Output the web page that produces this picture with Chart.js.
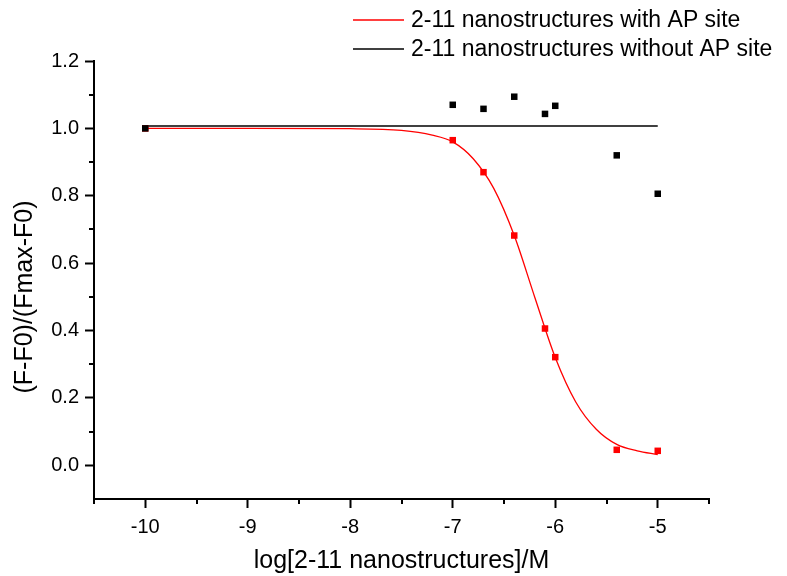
<!DOCTYPE html>
<html>
<head>
<meta charset="utf-8">
<title>Binding curve</title>
<script src="https://cdn.jsdelivr.net/npm/chart.js@4.4.1/dist/chart.umd.min.js"></script>
<style>
    html, body { margin: 0; padding: 0; background: #fff; }
    #wrap { width: 787px; height: 576px; }
</style>
</head>
<body>
<div id="wrap"><canvas id="myChart" width="787" height="576"></canvas></div>
<script>
// Measured points (log concentration)
const logConc = [-10, -7, -6.7, -6.4, -6.1, -6, -5.4, -5];
// With AP site (red squares)
const withAP = [1.0, 0.965, 0.870, 0.682, 0.406, 0.321, 0.046, 0.043];
// Without AP site (black squares)
const withoutAP = [1.0, 1.070, 1.058, 1.094, 1.043, 1.067, 0.920, 0.806];
// Fitted curve
const fitX = [-10, -9, -8, -7.5, -7.2, -7, -6.8, -6.6, -6.4, -6.2, -6, -5.8, -5.6, -5.4, -5.2, -5];
const fitY = [1.0, 1.0, 0.999, 0.994, 0.980, 0.960, 0.910, 0.822, 0.682, 0.499, 0.320, 0.188, 0.107, 0.062, 0.043, 0.032];
// Flat line (without AP site)
const flatX = [-10, -5];
const flatY = [1.007, 1.007];
// Axis ticks
const xTicks = [-10, -9, -8, -7, -6, -5];
const xMinor = [-10.5, -9.5, -8.5, -7.5, -6.5, -5.5, -4.5];
const yTicks = [0.0, 0.2, 0.4, 0.6, 0.8, 1.0, 1.2];
const yMinor = [0.1, 0.3, 0.5, 0.7, 0.9, 1.1];
const legendLabels = ['2-11 nanostructures with AP site', '2-11 nanostructures without AP site'];
const yTitle = '(F-F0)/(Fmax-F0)';

const FONT = '"Liberation Sans", Arial, sans-serif';
Chart.defaults.font.family = FONT;
Chart.defaults.color = '#000';

function toPoints(xs, ys) {
    return xs.map((x, i) => ({ x: x, y: ys[i] }));
}

// Small ticks between the labelled ones
const minorTicks = {
    id: 'minorTicks',
    afterDraw(chart) {
        const ctx = chart.ctx;
        const sx = chart.scales.x, sy = chart.scales.y;
        ctx.save();
        ctx.strokeStyle = '#000';
        ctx.lineWidth = 2;
        ctx.beginPath();
        xMinor.forEach(v => {
            const px = Math.round(sx.getPixelForValue(v));
            ctx.moveTo(px, sx.top);
            ctx.lineTo(px, sx.top + 5);
        });
        yMinor.forEach(v => {
            const py = Math.round(sy.getPixelForValue(v));
            ctx.moveTo(sy.right, py);
            ctx.lineTo(sy.right - 5, py);
        });
        ctx.stroke();
        ctx.restore();
    }
};

// Legend block at the top right + y title (sits a bit below the middle)
const sideLegend = {
    id: 'sideLegend',
    afterDraw(chart) {
        const ctx = chart.ctx;
        ctx.save();
        ctx.font = '23px ' + FONT;
        ctx.textBaseline = 'middle';
        ctx.textAlign = 'left';
        chart.data.datasets.forEach(ds => {
            if (ds.legendRow === undefined) return;
            const y = 20 + ds.legendRow * 29;
            ctx.strokeStyle = ds.borderColor;
            ctx.lineWidth = 1.5;
            ctx.beginPath();
            ctx.moveTo(353, y);
            ctx.lineTo(404, y);
            ctx.stroke();
            ctx.fillStyle = '#000';
            ctx.fillText(ds.label, 411, y + 1);
        });
        // y axis title
        ctx.font = '25px ' + FONT;
        ctx.textAlign = 'center';
        ctx.translate(25, 297);
        ctx.rotate(-Math.PI / 2);
        ctx.fillText(yTitle, 0, 0);
        ctx.restore();
    }
};

const ctx = document.getElementById('myChart').getContext('2d');
const myChart = new Chart(ctx, {
    type: 'scatter',
    data: {
        datasets: [
            {
                label: 'without AP (points)',
                data: toPoints(logConc, withoutAP),
                pointStyle: 'rect',
                pointRadius: 4.6,
                pointBorderWidth: 0,
                backgroundColor: '#000',
                showLine: false,
                order: 0
            },
            {
                label: 'with AP (points)',
                data: toPoints(logConc, withAP),
                pointStyle: 'rect',
                pointRadius: 4.6,
                pointBorderWidth: 0,
                backgroundColor: '#ff0000',
                showLine: false,
                order: 1
            },
            {
                label: legendLabels[0],
                legendRow: 0,
                data: toPoints(fitX, fitY),
                showLine: true,
                borderColor: '#ff0000',
                borderWidth: 1.3,
                pointRadius: 0,
                cubicInterpolationMode: 'monotone',
                order: 2
            },
            {
                label: legendLabels[1],
                legendRow: 1,
                data: toPoints(flatX, flatY),
                showLine: true,
                borderColor: '#000',
                borderWidth: 1.5,
                pointRadius: 0,
                order: 3
            }
        ]
    },
    options: {
        responsive: false,
        animation: false,
        layout: { padding: { top: 61, right: 78, left: 0, bottom: 0 } },
        plugins: {
            legend: { display: false },
            tooltip: { enabled: false }
        },
        scales: {
            x: {
                type: 'linear',
                min: -10.5,
                max: -4.5,
                afterBuildTicks: axis => { axis.ticks = xTicks.map(v => ({ value: v })); },
                afterFit: scale => { scale.height = 77; },
                grid: { drawOnChartArea: false, tickLength: 9, tickWidth: 2, tickColor: '#000' },
                border: { color: '#000', width: 2 },
                ticks: {
                    font: { size: 20 },
                    padding: 7,
                    maxRotation: 0,
                    callback: v => String(v)
                },
                title: {
                    display: true,
                    text: 'log[2-11 nanostructures]/M',
                    font: { size: 25 },
                    padding: { top: 0, bottom: 0 }
                }
            },
            y: {
                type: 'linear',
                min: -0.1,
                max: 1.2,
                afterBuildTicks: axis => { axis.ticks = yTicks.map(v => ({ value: v })); },
                afterFit: scale => { scale.width = 94; },
                grid: { drawOnChartArea: false, tickLength: 9, tickWidth: 2, tickColor: '#000' },
                border: { color: '#000', width: 2 },
                ticks: {
                    font: { size: 20 },
                    padding: 6,
                    callback: v => Number(v).toFixed(1)
                },
                title: { display: false }
            }
        }
    },
    plugins: [minorTicks, sideLegend]
});
</script>
</body>
</html>
